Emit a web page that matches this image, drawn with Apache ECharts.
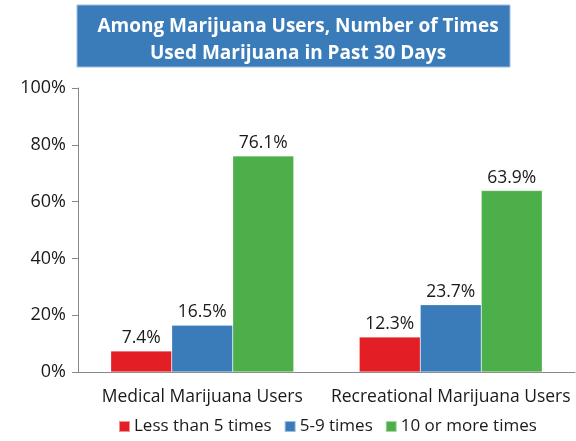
<!DOCTYPE html>
<html lang="en">
<head>
<meta charset="UTF-8">
<title>Marijuana use</title>
<script src="https://cdn.jsdelivr.net/npm/echarts@6/dist/echarts.min.js"></script>
<style>
    html, body { margin: 0; padding: 0; background: #fff; }
    #chart { width: 576px; height: 441px; }
</style>
</head>
<body>
<div id="chart"></div>
<script>
    var categories = ['Medical Marijuana Users', 'Recreational Marijuana Users'];
    var lessThan5 = [7.4, 12.3];
    var fiveToNine = [16.5, 23.7];
    var tenOrMore = [76.1, 63.9];
    var seriesNames = ['Less than 5 times', '5-9 times', '10 or more times'];
    var colors = ['#E31E24', '#3A7CB9', '#4DAF4A'];
    var titleText = 'Among Marijuana Users, Number of Times\nUsed Marijuana in Past 30 Days';

    var font = 'Open Sans';
    var chart = echarts.init(document.getElementById('chart'));

    function bar(name, data, i) {
        return {
            name: name,
            type: 'bar',
            data: data,
            barWidth: 61,
            barGap: '0%',
            itemStyle: { color: colors[i], borderColor: 'rgba(255,255,255,0.5)', borderWidth: 0.5 },
            label: {
                show: true,
                position: 'top',
                distance: 4,
                formatter: '{c}%',
                color: '#1a1a1a',
                fontFamily: font,
                fontSize: 17.5
            }
        };
    }

    chart.setOption({
        animation: false,
        color: colors,
        graphic: [{
            type: 'rect',
            z: -1,
            shape: { x: 77, y: 5, width: 433, height: 62 },
            style: { fill: '#3A7BBA', stroke: '#9CC0E0', lineWidth: 1 }
        }],
        title: {
            text: titleText,
            left: 293,
            textAlign: 'center',
            top: 8,
            textStyle: {
                color: '#fff',
                fontFamily: font,
                fontWeight: 'bold',
                fontSize: 19,
                lineHeight: 27
            }
        },
        legend: {
            bottom: 1,
            left: 113,
            itemWidth: 11,
            itemHeight: 11,
            itemGap: 12,
            icon: 'rect',
            textStyle: { color: '#1a1a1a', fontFamily: font, fontSize: 17, padding: [0, 0, 0, -1] },
            data: seriesNames
        },
        grid: { left: 78, right: 1, top: 88, bottom: 69 },
        xAxis: {
            type: 'category',
            data: categories,
            axisLine: { lineStyle: { color: '#888' } },
            axisTick: { length: 6, lineStyle: { color: '#888' } },
            axisLabel: { interval: 0, color: '#1a1a1a', fontFamily: font, fontSize: 17.5, margin: 16 }
        },
        yAxis: {
            type: 'value',
            min: 0,
            max: 100,
            interval: 20,
            splitLine: { show: false },
            axisLine: { show: true, lineStyle: { color: '#888' } },
            axisTick: { show: true, length: 6, lineStyle: { color: '#888' } },
            axisLabel: { color: '#1a1a1a', fontFamily: font, fontSize: 18, margin: 12, formatter: '{value}%' }
        },
        series: [
            bar(seriesNames[0], lessThan5, 0),
            bar(seriesNames[1], fiveToNine, 1),
            bar(seriesNames[2], tenOrMore, 2)
        ]
    });
</script>
</body>
</html>
